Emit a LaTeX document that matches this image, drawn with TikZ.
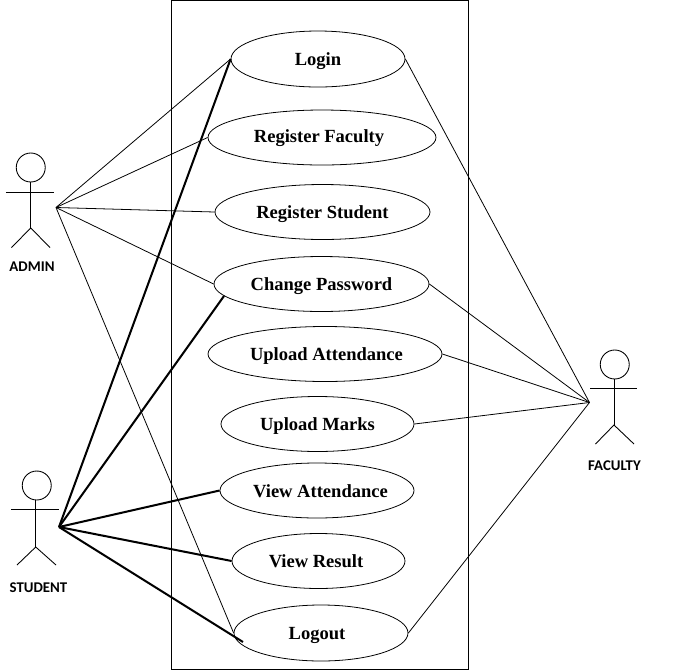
\documentclass[tikz,border=0pt]{standalone}
\usepackage{fontspec}
\setmainfont{Liberation Serif}
\newfontfamily\actorfont{Carlito}
\usepackage{tikz}
\tikzset{
  usecase/.style={draw,ellipse,inner ysep=0pt,inner xsep=-14pt,line width=0.45pt,text height=10pt,text depth=2.2pt,font=\bfseries\fontsize{10.55}{12}\selectfont},
  actorlabel/.style={font=\actorfont\bfseries\fontsize{8.45}{10}\selectfont},
  thinlink/.style={line width=0.45pt},
  thicklink/.style={line width=1.15pt},
  stick/.style={line width=0.5pt}
}
\usetikzlibrary{shapes.geometric}
\begin{document}
\begin{tikzpicture}
\useasboundingbox (0,0) rectangle (13.64,-13.44);
%\draw[help lines] (0,-14) grid (14,0);

\draw[line width=0.45pt] (3.42,-0.01) rectangle (9.36,-13.38);

\node[usecase,minimum width=3.48cm,minimum height=1.12cm] (login) at (6.36,-1.18) {Login};
\node[usecase,minimum width=4.56cm,minimum height=1.10cm] (regfaculty) at (6.44,-2.75) {\hspace*{-3.4pt}\raisebox{1.2pt}{Register Faculty}};
\node[usecase,minimum width=4.30cm,minimum height=1.10cm] (regstudent) at (6.45,-4.24) {Register Student};
\node[usecase,minimum width=4.30cm,minimum height=1.10cm] (changepass) at (6.43,-5.68) {Change Password};
\node[usecase,minimum width=4.68cm,minimum height=1.10cm] (upattend) at (6.50,-7.08) {\hspace*{1.7pt}Upload Attendance};
\node[usecase,minimum width=3.86cm,minimum height=1.10cm] (upmarks) at (6.35,-8.48) {Upload Marks};
\node[usecase,minimum width=3.88cm,minimum height=1.10cm] (viewattend) at (6.34,-9.81) {\hspace*{4pt}View Attendance};
\node[usecase,minimum width=3.46cm,minimum height=1.10cm] (viewresult) at (6.37,-11.22) {\hspace*{-2.8pt}View Result};
\node[usecase,minimum width=3.48cm,minimum height=1.12cm] (logout) at (6.42,-12.66) {\hspace*{-4.5pt}Logout};

% admin
\draw[stick] (0.615,-3.35) circle (0.29);
\draw[stick] (0.615,-3.63)--(0.615,-4.56);
\draw[stick] (0.12,-3.84)--(1.07,-3.84);
\draw[stick] (0.23,-4.95)--(0.615,-4.56)--(1.0,-4.95);
\node[actorlabel] (admin) at (0.64,-5.33) {ADMIN};
\coordinate (adminhub) at (1.12,-4.15);

% student
\draw[stick] (0.735,-9.71) circle (0.29);
\draw[stick] (0.715,-9.99)--(0.715,-10.94);
\draw[stick] (0.22,-10.19)--(1.18,-10.19);
\draw[stick] (0.34,-11.30)--(0.715,-10.94)--(1.12,-11.30);
\node[actorlabel] (student) at (0.77,-11.76) {STUDENT};
\coordinate (studenthub) at (1.18,-10.54);

% faculty
\draw[stick] (12.295,-7.29) circle (0.29);
\draw[stick] (12.28,-7.57)--(12.28,-8.50);
\draw[stick] (11.80,-7.77)--(12.74,-7.77);
\draw[stick] (11.91,-8.88)--(12.28,-8.50)--(12.68,-8.88);
\node[actorlabel] (faculty) at (12.29,-9.31) {FACULTY};
\coordinate (facultyhub) at (11.79,-8.05);

\draw[thinlink] (adminhub)--(login.west);
\draw[thinlink] (adminhub)--(regfaculty.west);
\draw[thinlink] (adminhub)--(regstudent.west);
\draw[thinlink] (adminhub)--(changepass.west);
\draw[thinlink] (adminhub)--(logout.west);

\coordinate (logoutend) at (4.86,-12.84);
\draw[thicklink] (studenthub)--(login.west);
\draw[thicklink] (studenthub)--(changepass.187);
\draw[thicklink] (studenthub)--(viewattend.west);
\draw[thicklink] (studenthub)--(viewresult.west);
\draw[thicklink] (studenthub)--(logoutend);

\draw[thinlink] (facultyhub)--(login.east);
\draw[thinlink] (facultyhub)--(changepass.east);
\draw[thinlink] (facultyhub)--(upattend.east);
\draw[thinlink] (facultyhub)--(upmarks.east);
\draw[thinlink] (facultyhub)--(logout.east);
\end{tikzpicture}
\end{document}
